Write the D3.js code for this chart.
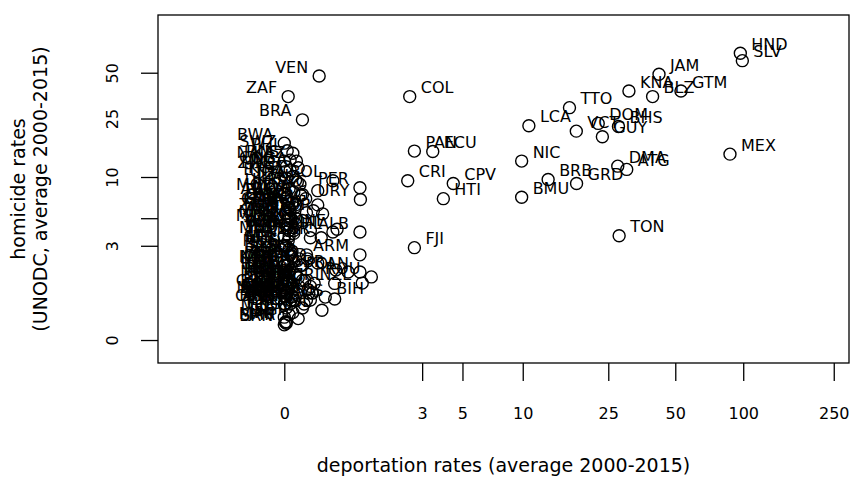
<!DOCTYPE html>
<html><head><meta charset="utf-8">
<script src="https://cdn.jsdelivr.net/npm/d3@7"></script>
<style>body{margin:0;background:#fff} text{font-family:"DejaVu Sans",sans-serif}</style>
</head><body><svg id="c" width="854" height="499"></svg>
<script>
const codes = ["COL","PAN","ECU","CRI","CPV","HTI","FJI","NIC","BMU","LCA","TTO","VCT","DOM","BHS","GUY","KNA","BLZ","GTM","JAM","HND","SLV","MEX","DMA","ATG","GRD","BRB","TON","BIH",
"VEN","ZAF","BRA","BWA","SWZ","PHL","RUS","NAM","KAZ","COG","NGA","MNG","ZWE","KGZ","ETH","UGA","BOL","TZA","LTU","PER","UKR","SYC","BLR","MOZ","LVA","MDA","AGO","PAK","EST","URY","LAO","GHA","KEN","ARG","CMR","THA","GAB","KHM","GEO","ERI","SUR","ZMB","TKM","AFG","TUR","CIV","IRQ","GIN","MMR","SDN","TGO","MDG","YEM","MNE","UZB","RWA","SLB","BEN","ALB","CHL","LKA","MWI","IND","TLS","LBN","LBR","IRN","NPL","MLI","STP","MUS","SEN","BGD","SLE","SYR","ARM","EGY","KOR","ISR","AZE","BFA","MKD","JOR","KWT","TJK","NER","MYS","BGR","GBR","FIN","CAN","POL","SVK","BTN","BEL","ROU","HUN","TUN","MAR","SRB","VNM","NZL","IRL","GRC","CYP","HRV","PRT","FRA","CZE","ITA","MLT","NLD","CHN","QAT","DNK","SWE","SAU","DZA","MDV","AND","AUS","DEU","ESP","LUX","NOR","CHE","SVN","BHR","ARE","OMN","AUT","MAC","IDN","ISL","HKG","BRN","SGP","JPN",
"LIE","SMR","MCO","TWN","FRO","PRK","LBY","TCD","COM","DJI","BDI","CUW"];
const deport = [2.53,2.70,3.45,2.46,4.47,3.95,2.70,9.88,9.88,10.7,16.6,17.85,22.5,27.8,23.5,31.0,39.6,53.0,42.3,97.1,99.1,87.4,27.6,30.3,17.9,13.2,28.0,0.51,
0.42,0.04,0.20,0.00,0.03,0.09,0.06,0.00,0.13,0.02,0.15,0.06,0.01,0.09,0.02,0.12,0.63,0.14,0.17,1.14,0.05,0.40,0.10,0.00,0.20,0.18,0.03,0.02,0.24,1.15,0.05,0.08,0.12,0.40,0.04,0.11,0.05,0.06,0.34,0.25,0.47,0.01,0.02,0.05,0.07,0.12,0.05,0.20,0.04,0.04,0.12,0.01,0.03,0.70,0.05,0.10,0.30,0.05,1.14,0.63,0.10,0.00,0.05,0.00,0.30,0.45,0.04,0.02,0.00,0.00,0.05,0.08,0.07,0.25,0.06,1.14,0.08,0.16,0.26,0.10,0.00,0.40,0.18,0.01,0.03,0.00,0.04,0.20,0.68,0.06,1.14,0.90,0.05,0.00,0.12,1.40,0.15,0.02,0.03,0.23,0.20,1.19,0.66,0.35,0.04,0.16,0.30,0.27,0.13,0.32,0.01,0.28,0.03,0.01,0.09,0.08,0.01,0.01,0.00,0.02,0.66,0.25,0.30,0.03,0.07,0.22,0.06,0.00,0.01,0.00,0.20,0.01,0.02,0.46,0.09,0.00,0.15,0.02,
0.00,0.02,0.05,0.10,0.00,0.01,0.02,0.00,0.00,0.02,0.01,0.33];
const homicide = [34.9,15.1,15.0,9.4,9.0,7.0,2.89,12.9,7.16,22.4,29.5,20.6,23.2,22.1,18.9,38.0,34.9,38.0,48.9,66.9,59.9,14.4,11.9,11.3,9.0,9.6,3.64,0.88,
47.6,34.9,24.5,17.1,15.2,14.6,13.1,12.9,12.9,11.8,11.6,11.2,10.9,10.1,9.8,9.5,9.4,9.2,8.9,8.4,8.3,8.0,7.8,7.6,7.5,7.4,7.2,7.0,7.0,6.9,6.7,6.5,6.3,6.3,6.0,6.0,6.0,5.8,5.7,5.5,5.4,5.4,5.4,5.2,5.0,5.0,5.0,4.8,4.8,4.5,4.5,4.5,4.2,4.1,4.0,4.0,4.0,4.0,3.9,3.9,3.8,3.6,3.6,3.6,3.5,3.5,3.3,3.0,3.0,3.0,2.8,2.7,2.6,2.5,2.5,2.5,2.4,2.3,2.3,2.2,2.2,2.1,2.0,2.0,2.0,2.0,2.0,2.0,1.8,1.8,1.72,1.72,1.7,1.7,1.6,1.53,1.5,1.5,1.4,1.4,1.4,1.31,1.3,1.3,1.3,1.2,1.2,1.1,1.0,1.0,1.0,1.0,1.0,1.0,0.9,0.9,0.9,0.9,0.9,0.9,0.83,0.8,0.8,0.8,0.8,0.7,0.7,0.7,0.7,0.7,0.6,0.3,0.6,0.55,0.5,0.25,0.37,0.31,
0.4,0.28,0.45,0.8,1.1,1.2,1.8,1.5,1.1,1.4,1.6,1.0];
const rightLabeled = ["COL","PAN","ECU","CRI","CPV","HTI","FJI","NIC","BMU","LCA","TTO","VCT","DOM","BHS","GUY","KNA","BLZ","GTM","JAM","HND","SLV","MEX","DMA","ATG","GRD","BRB","TON","BIH"];
const xTicks = [0,3,5,10,25,50,100,250];
const yTicks = [0,3,5,10,25,50];
const yTickLabels = ["0","3","","10","25","50"];
const xTitle = "deportation rates (average 2000-2015)";
const yTitle = ["homicide rates","(UNODC, average 2000-2015)"];

const L=158, R=849, T=15, B=363;
const svg = d3.select("#c");
const x = d3.scaleSymlog().constant(1).domain([-2.561, 291.6]).range([L, R]);
const y = d3.scaleSymlog().constant(1).domain([-0.402, 118.2]).range([B, T]);

const data = codes.map((c,i)=>({code:c, dx:deport[i], hy:homicide[i]}));

// points
svg.append("g").selectAll("circle").data(data).join("circle")
  .attr("cx", d=>x(d.dx)).attr("cy", d=>y(d.hy)).attr("r", 6)
  .attr("fill","none").attr("stroke","#000").attr("stroke-width",1.4);

// labels
svg.append("g").selectAll("text").data(data).join("text")
  .attr("x", d=> rightLabeled.includes(d.code) ? x(d.dx)+11 : x(d.dx)-11)
  .attr("y", d=> y(d.hy)-3.4)
  .attr("text-anchor", d=> rightLabeled.includes(d.code) ? "start" : "end")
  .attr("font-size",16).attr("fill","#000")
  .text(d=>d.code);

// box
svg.append("rect").attr("x",L).attr("y",T).attr("width",R-L).attr("height",B-T)
  .attr("fill","none").attr("stroke","#000").attr("stroke-width",1.3);

// x axis
const gx = svg.append("g").attr("transform",`translate(0,${B})`)
  .call(d3.axisBottom(x).tickValues(xTicks).tickFormat(d3.format("d")).tickSize(18).tickPadding(27));
gx.select(".domain").remove();
gx.selectAll("line").attr("stroke-width",1.3);
gx.selectAll("text").attr("font-size",16).attr("font-family","DejaVu Sans").attr("fill","#000");

// y axis
const gy = svg.append("g").attr("transform",`translate(${L},0)`)
  .call(d3.axisLeft(y).tickValues(yTicks).tickFormat((d,i)=>yTickLabels[i]).tickSize(17));
gy.select(".domain").remove();
gy.selectAll("line").attr("stroke-width",1.3);
gy.selectAll("text").attr("x",0).attr("dy",null)
  .attr("transform","translate(-40,0) rotate(-90)")
  .attr("text-anchor","middle").attr("font-size",16).attr("font-family","DejaVu Sans").attr("fill","#000");

// titles
svg.append("text").attr("x",(L+R)/2).attr("y",472).attr("text-anchor","middle")
  .attr("font-size",19).text(xTitle);
yTitle.forEach((t,i)=>{
  svg.append("text").attr("transform",`translate(${25+i*22},${(T+B)/2}) rotate(-90)`)
    .attr("text-anchor","middle").attr("font-size",19).text(t);
});
</script></body></html>
